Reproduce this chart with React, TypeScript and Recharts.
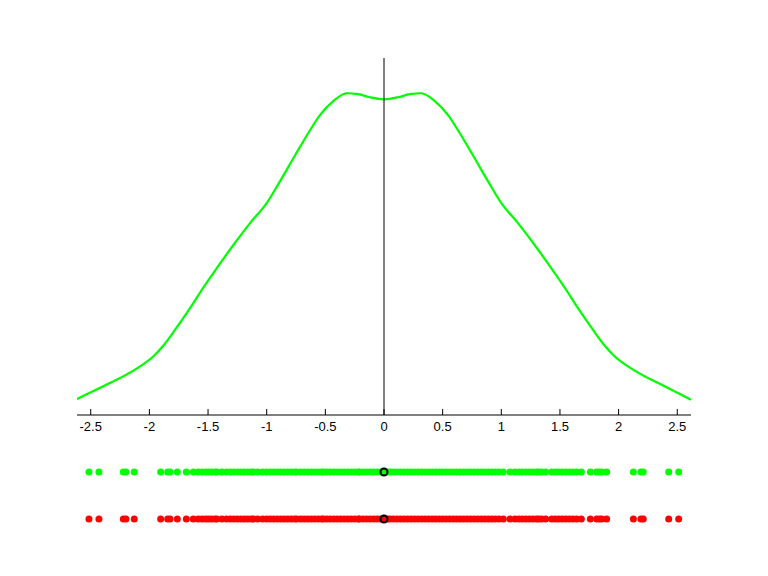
import { LineChart, Line, XAxis, YAxis, ReferenceLine, ScatterChart, Scatter } from "recharts";

// density curve
const curveX = [
  -2.617, -2.342, -2.2, -2.086, -1.972, -1.873, -1.773, -1.688, -1.617, -1.569, -1.455, -1.27, -1.142, -0.997,
  -0.886, -0.758, -0.645, -0.546, -0.43, -0.318, -0.22, -0.12, 0,
  0.12, 0.22, 0.318, 0.43, 0.546, 0.645, 0.758, 0.886, 0.997, 1.142, 1.27, 1.455, 1.569, 1.617, 1.688, 1.773,
  1.873, 1.972, 2.086, 2.2, 2.342, 2.617,
];
const curveY = [
  0.018, 0.0355, 0.045, 0.054, 0.065, 0.079, 0.097, 0.113, 0.127, 0.137, 0.159, 0.193, 0.215, 0.238,
  0.262, 0.291, 0.316, 0.336, 0.352, 0.3605, 0.3595, 0.356, 0.3537,
  0.356, 0.3595, 0.3605, 0.352, 0.336, 0.316, 0.291, 0.262, 0.238, 0.215, 0.193, 0.159, 0.137, 0.127,
  0.113, 0.097, 0.079, 0.065, 0.054, 0.045, 0.0355, 0.017,
];

// sample positions (rug rows)
const samples = [
  -2.515, -2.43, -2.222, -2.2, -2.129, -1.904, -1.844, -1.824, -1.762, -1.685, -1.626, -1.583, -1.55, -1.52,
  -1.497, -1.47, -1.44, -1.426, -1.381, -1.341, -1.31, -1.28, -1.25, -1.22, -1.19, -1.16, -1.13, -1.114,
  -1.077, -1.034, -1.0, -0.97, -0.94, -0.91, -0.88, -0.85, -0.82, -0.79, -0.76, -0.744, -0.71, -0.68, -0.65,
  -0.62, -0.59, -0.56, -0.531, -0.517, -0.49, -0.46, -0.43, -0.4, -0.37, -0.34, -0.31, -0.28, -0.25, -0.219,
  -0.21, -0.18, -0.15, -0.12, -0.09, -0.06, -0.03,
  0.03, 0.051, 0.08, 0.11, 0.14, 0.17, 0.2, 0.23, 0.26, 0.29, 0.32, 0.35, 0.38, 0.41, 0.44, 0.47, 0.5, 0.53,
  0.56, 0.59, 0.62, 0.65, 0.68, 0.71, 0.74, 0.77, 0.8, 0.83, 0.86, 0.89, 0.92, 0.95, 0.98, 1.017, 1.074,
  1.117, 1.15, 1.18, 1.21, 1.24, 1.27, 1.3, 1.32, 1.344, 1.378, 1.43, 1.46, 1.49, 1.52, 1.55, 1.58, 1.61,
  1.643, 1.682, 1.759, 1.813, 1.835, 1.856, 1.898, 2.126, 2.19, 2.21, 2.427, 2.512,
];

const xTicks = [-2.5, -2, -1.5, -1, -0.5, 0, 0.5, 1, 1.5, 2, 2.5];
const xDomain = [-2.617, 2.617];
const GREEN_ROW = 2;
const RED_ROW = 1;

const curve = curveX.map((x, i) => ({ x, y: curveY[i] }));
const greenRow = samples.map((x) => ({ x, y: GREEN_ROW }));
const redRow = samples.map((x) => ({ x, y: RED_ROW }));
const font = "'Liberation Sans', Arial, Helvetica, sans-serif";

function Tick(props: any) {
  const { x, y, payload } = props;
  return (
    <g>
      <line x1={x} x2={x} y1={y} y2={y - 6} stroke="#000" />
      <text x={x} y={y + 16} textAnchor="middle" fontSize={13} fill="#000" fontFamily={font}>
        {String(payload.value)}
      </text>
    </g>
  );
}

const dot = (fill: string) => (p: any) => <circle cx={p.cx} cy={p.cy} r={3.5} fill={fill} />;
const center = (fill: string) => (p: any) => (
  <circle cx={p.cx} cy={p.cy} r={3.5} fill={fill} stroke="#000" strokeWidth={2} />
);

export default function App() {
  return (
    <div style={{ position: "absolute", left: 0, top: 0, width: 768, height: 576, background: "#fff" }}>
      <div style={{ position: "absolute", left: 0, top: 0 }}>
        <LineChart width={768} height={440} data={curve} margin={{ top: 58, right: 77, bottom: 0, left: 77 }}>
          <XAxis
            type="number"
            dataKey="x"
            domain={xDomain}
            ticks={xTicks}
            allowDataOverflow
            height={25}
            tickSize={0}
            tickMargin={0}
            tickLine={false}
            axisLine={{ stroke: "#000" }}
            tick={<Tick />}
            interval={0}
          />
          <YAxis hide type="number" domain={[0, 0.4]} allowDataOverflow />
          <Line type="monotone" dataKey="y" stroke="#ff0000" strokeWidth={1} dot={false} isAnimationActive={false} />
          <Line type="monotone" dataKey="y" stroke="#00ff00" strokeWidth={2.2} dot={false} isAnimationActive={false} />
          <ReferenceLine x={0} stroke="#000" strokeWidth={1} />
        </LineChart>
      </div>
      <div style={{ position: "absolute", left: 0, top: 425 }}>
        <ScatterChart width={768} height={141} margin={{ top: 0, right: 77, bottom: 0, left: 77 }}>
          <XAxis hide type="number" dataKey="x" domain={xDomain} allowDataOverflow />
          <YAxis hide type="number" dataKey="y" domain={[0, 3]} allowDataOverflow />
          <Scatter data={greenRow} shape={dot("#00ff00")} isAnimationActive={false} />
          <Scatter data={redRow} shape={dot("#ff0000")} isAnimationActive={false} />
          <Scatter data={[{ x: 0, y: GREEN_ROW }]} shape={center("#00ff00")} isAnimationActive={false} />
          <Scatter data={[{ x: 0, y: RED_ROW }]} shape={center("#ff0000")} isAnimationActive={false} />
        </ScatterChart>
      </div>
    </div>
  );
}
